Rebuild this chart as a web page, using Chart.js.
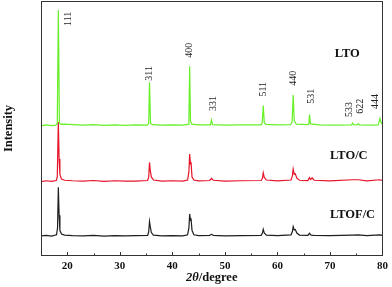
<!DOCTYPE html>
<html>
<head>
<meta charset="utf-8">
<script src="https://cdn.jsdelivr.net/npm/chart.js@4"></script>
<style>
  body { margin: 0; background: #fff; }
  #wrap { width: 392px; height: 287px; position: relative; }
</style>
</head>
<body>
<div id="wrap"><canvas id="xrdChart"></canvas></div>
<script>
// XRD patterns, 2theta (degree) vs stacked intensity (a.u.)
const ltoX = [15, 16, 17, 17.8, 18.1, 18.3, 18.5, 18.8, 19.5, 21, 23, 25, 27, 29, 31, 33, 35.25, 35.5, 35.65, 35.85, 36.2, 38, 40, 42, 43.0, 43.15, 43.3, 43.45, 43.7, 45, 47.25, 47.45, 47.65, 50, 53, 56.9, 57.1, 57.3, 57.5, 57.8, 60, 62.5, 62.8, 63.0, 63.2, 63.6, 65.8, 66.0, 66.1, 66.3, 68, 71, 74.1, 74.3, 74.5, 75.2, 75.4, 75.6, 78, 79.2, 79.5, 79.7, 80];
const ltoY = [51.0, 51.4, 51.1, 51.3, 52.0, 96.5, 52.2, 51.6, 51.7, 51.5, 51.3, 51.5, 51.2, 51.4, 51.2, 51.4, 51.3, 52.0, 68.1, 52.0, 51.5, 51.3, 51.4, 51.3, 51.6, 53.0, 74.4, 53.0, 51.7, 51.4, 51.4, 53.3, 51.5, 51.3, 51.4, 51.4, 52.0, 59.0, 52.3, 51.6, 51.4, 51.5, 52.5, 63.1, 53.0, 51.7, 51.5, 52.0, 55.5, 51.8, 51.4, 51.3, 51.4, 52.1, 51.5, 51.4, 51.9, 51.4, 51.3, 51.4, 54.0, 52.5, 51.6];

const ltocX = [15, 16, 17, 17.9, 18.1, 18.3, 18.45, 18.6, 18.9, 19.5, 21, 23, 25, 27, 29, 31, 33, 35.3, 35.5, 35.65, 35.8, 36.0, 36.4, 38, 40, 42, 42.9, 43.15, 43.3, 43.45, 43.55, 43.75, 44.1, 45, 47.1, 47.45, 47.8, 50, 53, 56.9, 57.15, 57.3, 57.5, 57.9, 60, 62.6, 62.85, 63.0, 63.2, 63.4, 63.7, 64.2, 65.8, 66.1, 66.3, 66.6, 67, 70, 74.3, 75.4, 77, 79.5, 80];
const ltocY = [29.2, 29.5, 29.3, 29.6, 31.0, 52.5, 38.0, 32.0, 30.2, 29.7, 29.5, 29.4, 29.6, 29.3, 29.5, 29.4, 29.4, 29.6, 31.0, 36.7, 33.5, 31.0, 29.8, 29.4, 29.5, 29.4, 29.8, 33.0, 40.0, 36.0, 36.8, 31.0, 29.8, 29.5, 29.6, 30.4, 29.7, 29.4, 29.5, 29.6, 30.5, 32.6, 30.8, 29.8, 29.5, 29.8, 31.5, 34.1, 32.0, 32.2, 30.5, 29.7, 29.6, 30.8, 30.0, 30.6, 29.7, 29.5, 29.9, 29.9, 29.5, 29.9, 29.6];

const ltofcX = [15, 16, 17, 17.95, 18.15, 18.3, 18.45, 18.6, 18.9, 19.5, 21, 23, 25, 27, 29, 31, 33, 35.3, 35.5, 35.65, 35.8, 36.0, 36.4, 38, 40, 42, 42.9, 43.15, 43.3, 43.45, 43.55, 43.75, 44.1, 45, 47.1, 47.45, 47.8, 50, 53, 56.9, 57.15, 57.3, 57.5, 57.9, 60, 62.6, 62.85, 63.0, 63.2, 63.4, 63.7, 64.2, 65.8, 66.1, 66.4, 67, 70, 74.3, 75.4, 77, 79.5, 80];
const ltofcY = [7.9, 8.1, 7.8, 8.3, 11.0, 27.0, 16.0, 10.0, 8.6, 8.2, 8.0, 7.9, 8.1, 7.8, 8.0, 7.9, 8.0, 8.1, 9.5, 13.5, 11.5, 9.2, 8.2, 7.9, 8.0, 7.9, 8.3, 11.0, 16.5, 14.0, 14.8, 10.0, 8.3, 8.0, 8.1, 8.5, 8.1, 7.9, 8.0, 8.1, 9.0, 10.5, 9.0, 8.2, 8.0, 8.3, 9.6, 11.5, 10.2, 10.4, 9.0, 8.2, 8.1, 8.9, 8.2, 8.1, 8.0, 8.2, 8.3, 8.0, 8.3, 8.1];

// Miller index labels (anchor in data coords)
const hklText = ['111', '311', '400', '331', '511', '440', '531', '533', '622', '444'];
const hklX = [20.2, 35.65, 43.3, 47.8, 57.4, 63.0, 66.4, 73.6, 75.8, 78.7];
const hklY = [93.0, 71.6, 80.7, 59.8, 65.4, 69.7, 62.6, 57.5, 58.7, 60.6];

// sample names
const sampleNames = ['LTO', 'LTO/C', 'LTOF/C'];
const sampleX = [73.3, 73.6, 74.3];
const sampleY = [79.5, 39.5, 16.1];

const xTicks = [20, 30, 40, 50, 60, 70, 80];

document.addEventListener('DOMContentLoaded', function() {
    const ctx = document.getElementById('xrdChart').getContext('2d');
    const serif = '"Liberation Serif", "DejaVu Serif", serif';

    function toPoints(xs, ys) {
        return xs.map((x, i) => ({ x: x, y: ys[i] }));
    }

    // frame, inward ticks and annotation text
    const decorations = {
        id: 'decorations',
        afterDatasetsDraw(chart) {
            const c = chart.ctx;
            const area = chart.chartArea;
            const xs = chart.scales.x;
            const ys = chart.scales.y;

            c.save();
            c.strokeStyle = '#333';
            c.lineWidth = 1;
            c.strokeRect(Math.round(area.left) + 0.5, Math.round(area.top) + 0.5,
                Math.round(area.right - area.left) - 1, Math.round(area.bottom - area.top) - 1);

            // inward ticks, longer at labelled values
            for (let v = 20; v < 80; v += 5) {
                const px = Math.round(xs.getPixelForValue(v)) + 0.5;
                const len = xTicks.includes(v) ? 4 : 2.5;
                c.beginPath();
                c.moveTo(px, area.bottom);
                c.lineTo(px, area.bottom - len);
                c.stroke();
            }

            // hkl labels, rotated
            c.fillStyle = '#222';
            c.font = '10px ' + serif;
            c.textAlign = 'center';
            c.textBaseline = 'middle';
            hklText.forEach((t, i) => {
                c.save();
                c.translate(xs.getPixelForValue(hklX[i]), ys.getPixelForValue(hklY[i]));
                c.rotate(-Math.PI / 2);
                c.fillText(t, 0, 0);
                c.restore();
            });

            // sample names
            c.fillStyle = '#111';
            c.font = 'bold 12.5px ' + serif;
            sampleNames.forEach((t, i) => {
                c.fillText(t, xs.getPixelForValue(sampleX[i]), ys.getPixelForValue(sampleY[i]));
            });

            // x title: italic 2θ then /degree
            const part1 = '2\u03B8';
            const part2 = '/degree';
            c.font = 'bold italic 12.5px ' + serif;
            const w1 = c.measureText(part1).width;
            c.font = 'bold 12.5px ' + serif;
            const w2 = c.measureText(part2).width;
            const cx = (area.left + area.right) / 2;
            const ty = 278;
            c.textAlign = 'left';
            c.font = 'bold italic 12.5px ' + serif;
            c.fillText(part1, cx - (w1 + w2) / 2, ty);
            c.font = 'bold 12.5px ' + serif;
            c.fillText(part2, cx - (w1 + w2) / 2 + w1, ty);
            c.restore();
        }
    };

    new Chart(ctx, {
        type: 'line',
        data: {
            datasets: [
                { label: 'LTO', data: toPoints(ltoX, ltoY), borderColor: 'rgb(102, 240, 40)' },
                { label: 'LTO/C', data: toPoints(ltocX, ltocY), borderColor: 'rgb(230, 20, 40)' },
                { label: 'LTOF/C', data: toPoints(ltofcX, ltofcY), borderColor: 'rgb(30, 30, 30)' }
            ]
        },
        options: {
            responsive: true,
            maintainAspectRatio: false,
            animation: false,
            layout: { padding: { top: 1, right: 8, left: 0, bottom: 0 } },
            elements: {
                line: { borderWidth: 1.2, tension: 0 },
                point: { radius: 0 }
            },
            plugins: {
                legend: { display: false },
                tooltip: { enabled: false }
            },
            scales: {
                x: {
                    type: 'linear',
                    min: 15,
                    max: 80,
                    afterFit: function(scale) { scale.height = 31; },
                    grid: { display: false, drawTicks: false, tickLength: 0 },
                    border: { display: false },
                    ticks: {
                        stepSize: 5,
                        autoSkip: false,
                        maxRotation: 0,
                        padding: 4,
                        color: '#111',
                        font: { family: serif, size: 11, weight: 'bold' },
                        callback: function(value) {
                            return xTicks.includes(value) ? value : '';
                        }
                    }
                },
                y: {
                    min: 0,
                    max: 100,
                    afterFit: function(scale) { scale.width = 41; },
                    grid: { display: false },
                    border: { display: false },
                    ticks: { display: false },
                    title: {
                        display: true,
                        text: 'Intensity',
                        color: '#111',
                        padding: 1,
                        font: { family: serif, size: 12.5, weight: 'bold' }
                    }
                }
            }
        },
        plugins: [decorations]
    });
});
</script>
</body>
</html>
